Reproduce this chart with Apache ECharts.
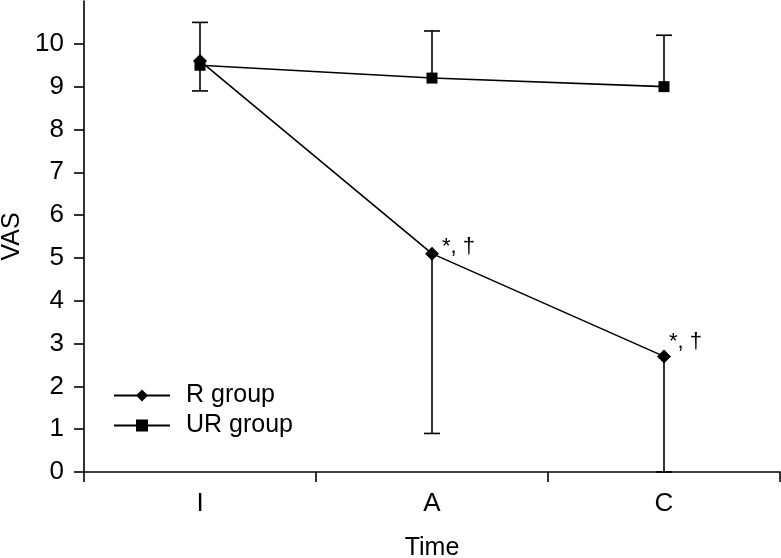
<!DOCTYPE html>
<html>
<head>
<meta charset="utf-8">
<script src="https://cdn.jsdelivr.net/npm/echarts@6/dist/echarts.min.js"></script>
<style>
html,body{margin:0;padding:0;background:#fff;}
#chart{width:781px;height:558px;}
</style>
</head>
<body>
<div id="chart"></div>
<script>
// Data
var categories = ['I', 'A', 'C'];
var rGroup = [9.6, 5.1, 2.7];
var urGroup = [9.5, 9.2, 9.0];
var rLower = [8.9, 0.9, 0];      // R group error bar lower ends
var urUpper = [10.5, 10.3, 10.2]; // UR group error bar upper ends
var rNotes = ['', '*, \u2020', '*, \u2020'];
var yTicks = [0, 1, 2, 3, 4, 5, 6, 7, 8, 9, 10];

// label placement (style only)
var noteOffsets = [[0, 0], [-2, -7], [-7, -14]];

var FONT = '"Liberation Sans", Arial, sans-serif';
var chart = echarts.init(document.getElementById('chart'));

function errorBar(color) {
  return function (params, api) {
    var c = api.value(0);
    var from = api.coord([c, api.value(1)]);
    var to = api.coord([c, api.value(2)]);
    var half = 8;
    var style = {stroke: color, lineWidth: 1.6};
    return {
      type: 'group',
      children: [
        {type: 'line', shape: {x1: from[0], y1: from[1], x2: to[0], y2: to[1]}, style: style},
        {type: 'line', shape: {x1: to[0] - half, y1: to[1], x2: to[0] + half, y2: to[1]}, style: style}
      ]
    };
  };
}

var option = {
  backgroundColor: '#fff',
  animation: false,
  textStyle: {fontFamily: FONT, color: '#000'},
  grid: {left: 84, right: 1, top: 1, bottom: 86, containLabel: false, outerBoundsMode: 'none'},
  legend: {
    data: ['R group', 'UR group'],
    orient: 'vertical',
    left: 108,
    top: 378,
    itemWidth: 56,
    itemHeight: 15,
    itemGap: 5,
    textStyle: {fontFamily: FONT, fontSize: 25, color: '#000', padding: [0, 0, 0, 11]},
    inactiveColor: '#000'
  },
  xAxis: {
    type: 'category',
    data: categories,
    boundaryGap: true,
    name: 'Time',
    nameLocation: 'middle',
    nameGap: 64,
    nameTextStyle: {fontFamily: FONT, fontSize: 25, color: '#000'},
    axisLine: {lineStyle: {color: '#000', width: 1.6}},
    axisTick: {show: true, alignWithLabel: false, length: 10, lineStyle: {color: '#000', width: 1.6}},
    axisLabel: {fontFamily: FONT, fontSize: 26, color: '#000', margin: 19},
    splitLine: {show: false}
  },
  yAxis: {
    type: 'value',
    min: 0,
    max: 11,
    interval: 1,
    name: 'VAS',
    nameLocation: 'middle',
    nameGap: 59,
    nameRotate: 90,
    nameTextStyle: {fontFamily: FONT, fontSize: 25, color: '#000'},
    axisLine: {show: true, lineStyle: {color: '#000', width: 1.6}},
    axisTick: {show: true, length: 10, customValues: yTicks, lineStyle: {color: '#000', width: 1.6}},
    axisLabel: {fontFamily: FONT, fontSize: 26, color: '#000', margin: 20, customValues: yTicks},
    splitLine: {show: false}
  },
  series: [
    {
      name: 'UR group',
      type: 'line',
      data: urGroup,
      symbol: 'rect',
      symbolSize: 11,
      z: 3,
      lineStyle: {color: '#000', width: 1.6},
      itemStyle: {color: '#000'}
    },
    {
      name: 'R group',
      type: 'line',
      data: rGroup.map(function (v, i) {
        return {
          value: v,
          label: {
            show: rNotes[i] !== '',
            formatter: rNotes[i],
            position: 'right',
            offset: noteOffsets[i],
            fontFamily: FONT,
            fontSize: 22,
            color: '#000'
          }
        };
      }),
      symbol: 'diamond',
      symbolSize: 14,
      z: 4,
      lineStyle: {color: '#000', width: 1.6},
      itemStyle: {color: '#000'}
    },
    {
      name: 'R err',
      type: 'custom',
      renderItem: errorBar('#000'),
      encode: {x: 0, y: [1, 2]},
      data: categories.map(function (c, i) { return [i, rGroup[i], rLower[i]]; }),
      z: 2
    },
    {
      name: 'UR err',
      type: 'custom',
      renderItem: errorBar('#000'),
      encode: {x: 0, y: [1, 2]},
      data: categories.map(function (c, i) { return [i, urGroup[i], urUpper[i]]; }),
      z: 2
    }
  ]
};
chart.setOption(option);
</script>
</body>
</html>
